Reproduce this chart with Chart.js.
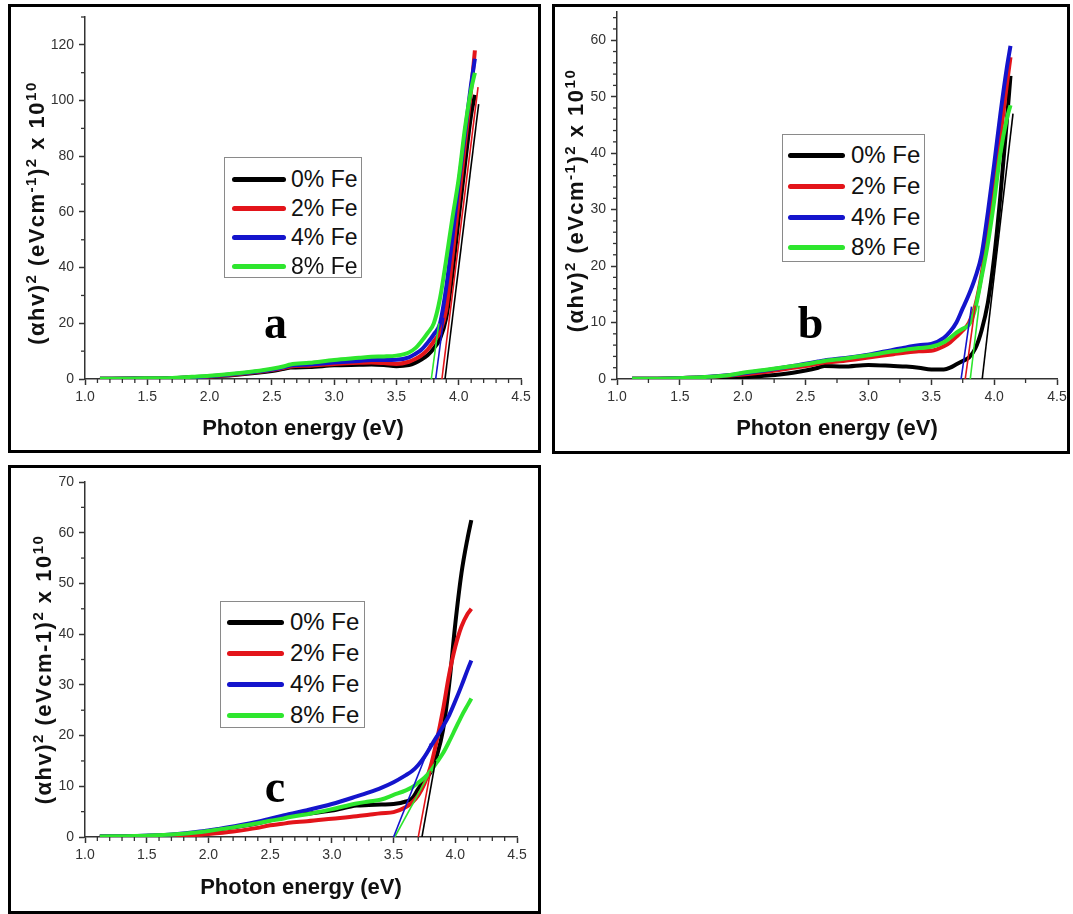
<!DOCTYPE html>
<html>
<head>
<meta charset="utf-8">
<script src="https://cdn.jsdelivr.net/npm/chart.js@4.4.0/dist/chart.umd.min.js"></script>
<style>
  body { margin: 0; background: #fff; width: 1073px; height: 914px; position: relative; overflow: hidden;
         font-family: "Liberation Sans", Arial, sans-serif; }
  .panel { position: absolute; border: 3px solid #000; box-sizing: border-box; background: #fff; }
  .panel canvas { position: absolute; left: 0; top: 0; }
  .legend { position: absolute; border: 1px solid #8a8a8a; background: #fff; box-sizing: border-box; }
  .legend .row { position: absolute; left: 0; height: 0; }
  .legend .swatch { position: absolute; height: 5px; border-radius: 3px; top: -2.5px; }
  .legend .txt { position: absolute; top: 0; transform: translateY(-50%); line-height: 1; color: #111; white-space: nowrap; }
</style>
</head>
<body>

<div class="panel" style="left:8px;top:4px;width:533px;height:449px;"><canvas id="chartA" width="527" height="443"></canvas></div>
<div class="panel" style="left:552px;top:4px;width:518px;height:450px;"><canvas id="chartB" width="512" height="444"></canvas></div>
<div class="panel" style="left:8px;top:465px;width:533px;height:449px;"><canvas id="chartC" width="527" height="443"></canvas></div>

<div class="legend" id="legendA" style="left:224px;top:157px;width:138px;height:121px;"></div>
<div class="legend" id="legendB" style="left:782px;top:134px;width:143px;height:128px;"></div>
<div class="legend" id="legendC" style="left:220px;top:601px;width:145px;height:127px;"></div>

<script>
'use strict';

// photon energy grid (eV) shared by all curves
const energy = [1.12, 1.4, 1.7, 1.9, 2.0, 2.2, 2.4, 2.5, 2.6, 2.65, 2.8, 3.0, 3.2, 3.3, 3.4, 3.5,
                3.6, 3.65, 3.7, 3.75, 3.8, 3.85, 3.9, 3.95, 4.0, 4.05, 4.1, 4.13];
const seriesNames = ['0% Fe', '2% Fe', '4% Fe', '8% Fe'];
const seriesColors = ['#000000', '#e3141a', '#1414cc', '#2ee62e'];
const xTicks = [1.0, 1.5, 2.0, 2.5, 3.0, 3.5, 4.0, 4.5];

// panel a  (alpha h nu)^2 x 1e10
const a0 = [0.1, 0.15, 0.3, 0.6, 0.8, 1.4, 2.3, 2.9, 3.7, 4.1, 4.3, 4.9, 5.1, 5.2, 5.0, 4.6, 5.0, 5.8, 7, 8.5, 11, 14.5, 22, 38, 58, 77, 95, 102];
const a2 = [0.1, 0.15, 0.3, 0.6, 0.9, 1.6, 2.6, 3.2, 4.0, 4.5, 4.8, 5.4, 5.8, 5.9, 5.7, 5.4, 6.2, 7.2, 8.5, 10.5, 13.5, 17, 25, 44, 64, 84, 104, 118];
const a4 = [0.1, 0.15, 0.3, 0.7, 1.0, 1.8, 2.8, 3.4, 4.3, 4.8, 5.2, 5.9, 6.5, 6.8, 6.8, 6.9, 7.8, 9.0, 10.5, 13, 16, 20, 33, 51, 70, 88, 106, 115];
const a8 = [0.1, 0.2, 0.4, 0.9, 1.2, 2.0, 3.0, 3.7, 4.6, 5.2, 5.8, 6.8, 7.6, 8.0, 8.1, 8.4, 9.5, 11.0, 13.5, 16.5, 20, 29, 43, 58, 72, 90, 104, 110];
// fitted straight lines: [x0, y0, x1, y1]
const fitA = [[3.89, 0, 4.16, 98.7], [3.865, 0, 4.155, 104.8], [3.815, 0, 3.88, 22], [3.78, 0, 3.84, 20]];

// panel b
const b0 = [0.05, 0.05, 0.1, 0.2, 0.3, 0.6, 1.1, 1.5, 2.0, 2.3, 2.2, 2.5, 2.3, 2.2, 2.0, 1.7, 1.7, 2.0, 2.6, 3.2, 3.8, 5.4, 8.6, 13.5, 21.5, 32.5, 45.5, 53.7];
const b2 = [0.05, 0.1, 0.3, 0.6, 0.8, 1.3, 2.0, 2.3, 2.7, 2.9, 3.2, 3.8, 4.4, 4.7, 4.9, 5.0, 5.8, 6.5, 7.5, 8.6, 10, 13, 18.5, 26.5, 35, 43, 52, 57];
const b4 = [0.05, 0.1, 0.35, 0.7, 1.0, 1.6, 2.3, 2.7, 3.1, 3.3, 3.7, 4.3, 5.2, 5.6, 6.0, 6.2, 7.3, 8.4, 10, 12.5, 15, 18, 22, 29.5, 38, 47, 55, 59];
const b8 = [0.05, 0.1, 0.35, 0.7, 1.1, 1.7, 2.3, 2.6, 3.0, 3.2, 3.6, 4.2, 4.9, 5.2, 5.5, 5.7, 6.5, 7.3, 8.2, 8.9, 9.6, 12.5, 18, 24, 31.5, 40, 46, 48.5];
const fitB = [[3.905, 0, 4.15, 47], [3.77, 0, 3.85, 13], [3.737, 0, 3.82, 12.8], [3.81, 0, 3.88, 13]];

// panel c
const c0 = [0.1, 0.15, 0.4, 0.8, 1.2, 1.9, 2.7, 3.3, 3.9, 4.2, 4.6, 5.2, 6.2, 6.3, 6.4, 6.5, 7.0, 7.6, 9.5, 11.2, 12.8, 16, 21, 30, 42, 52, 59, 62.5];
const c2 = [0.05, 0.1, 0.2, 0.4, 0.6, 1.1, 1.8, 2.3, 2.6, 2.8, 3.1, 3.6, 4.1, 4.4, 4.7, 4.9, 5.9, 6.8, 8.2, 10.5, 13.9, 19, 25, 32, 37.5, 41.5, 44, 45];
const c4 = [0.1, 0.2, 0.5, 1.0, 1.3, 2.1, 3.0, 3.6, 4.2, 4.5, 5.3, 6.5, 8.0, 8.8, 9.7, 10.8, 12.2, 13.0, 14.2, 15.8, 17.8, 19.8, 21.8, 24, 26.8, 29.8, 33, 34.8];
const c8 = [0.1, 0.2, 0.5, 0.9, 1.2, 1.9, 2.7, 3.2, 3.6, 3.9, 4.5, 5.5, 6.6, 7.0, 7.4, 8.3, 9.2, 9.8, 10.7, 11.7, 13, 14.7, 16.5, 18.8, 21.3, 23.8, 26, 27.3];
const fitC = [[3.73, 0, 3.84, 15], [3.70, 0, 3.80, 13], [3.50, 0, 3.80, 18.5], [3.51, 0, 3.80, 13]];

// y axis title pieces (sup = superscript)
const yTitleAB = [{ t: '(\u03b1hv)' }, { t: '2', sup: true }, { t: ' (eVcm' }, { t: '-1', sup: true },
                  { t: ')' }, { t: '2', sup: true }, { t: ' x 10' }, { t: '10', sup: true }];
const yTitleC = [{ t: '(\u03b1hv)' }, { t: '2', sup: true }, { t: ' (eVcm-1)' }, { t: '2', sup: true },
                 { t: ' x 10' }, { t: '10', sup: true }];

const sansFont = '"Liberation Sans", Arial, sans-serif';

// small outward minor ticks, placed with the scales
const minorTicks = {
  id: 'minorTicks',
  afterDraw(chart, args, opts) {
    const ctx = chart.ctx;
    ctx.save();
    ctx.strokeStyle = '#333';
    ctx.lineWidth = 1.3;
    const xs = chart.scales.x, ys = chart.scales.y;
    for (let v = xs.min; v <= xs.max + 1e-9; v += opts.x) {
      const r = Math.round(v * 1000) / 1000;
      if (Math.abs(r / opts.xMajor - Math.round(r / opts.xMajor)) < 1e-6) continue;
      const px = xs.getPixelForValue(r);
      ctx.beginPath(); ctx.moveTo(px, xs.top); ctx.lineTo(px, xs.top + 4); ctx.stroke();
    }
    for (let v = ys.min; v <= opts.yTop + 1e-9; v += opts.y) {
      const r = Math.round(v * 1000) / 1000;
      if (Math.abs(r / opts.yMajor - Math.round(r / opts.yMajor)) < 1e-6) continue;
      const py = ys.getPixelForValue(r);
      ctx.beginPath(); ctx.moveTo(ys.right, py); ctx.lineTo(ys.right - 4, py); ctx.stroke();
    }
    ctx.restore();
  }
};

// bold panel letter at a data position
const panelLetter = {
  id: 'panelLetter',
  afterDatasetsDraw(chart, args, opts) {
    const ctx = chart.ctx;
    ctx.save();
    ctx.font = 'bold ' + opts.size + 'px "Liberation Serif", "Times New Roman", serif';
    ctx.fillStyle = '#000';
    ctx.textAlign = 'center';
    ctx.textBaseline = 'alphabetic';
    ctx.fillText(opts.text, chart.scales.x.getPixelForValue(opts.x), chart.scales.y.getPixelForValue(opts.y));
    ctx.restore();
  }
};

// rotated y title with real superscripts
const yTitle = {
  id: 'yTitle',
  afterDraw(chart, args, o) {
    const ctx = chart.ctx, ca = chart.chartArea;
    ctx.save();
    ctx.translate(o.x, (ca.top + ca.bottom) / 2 + o.dy);
    ctx.rotate(-Math.PI / 2);
    ctx.fillStyle = '#111';
    ctx.textBaseline = 'alphabetic';
    if ('letterSpacing' in ctx) ctx.letterSpacing = o.spacing + 'px';
    const fonts = o.parts.map(p => 'bold ' + (p.sup ? Math.round(o.size * 0.66) : o.size) + 'px ' + sansFont);
    const widths = o.parts.map((p, i) => { ctx.font = fonts[i]; return ctx.measureText(p.t).width; });
    const total = widths.reduce((s, w) => s + w, 0);
    let cx = -total / 2;
    const base = o.size * 0.36;
    o.parts.forEach((p, i) => {
      ctx.font = fonts[i];
      ctx.fillText(p.t, cx, base - (p.sup ? o.size * 0.36 : 0));
      cx += widths[i];
    });
    ctx.restore();
  }
};

function makeChart(id, p) {
  const curves = p.values.map((vals, i) => ({
    label: seriesNames[i],
    data: energy.map((e, k) => ({ x: e, y: vals[k] })),
    borderColor: seriesColors[i],
    borderWidth: 4,
    pointRadius: 0,
    cubicInterpolationMode: 'monotone',
    order: 10 - i
  }));
  const fits = p.fits.map((f, i) => ({
    label: seriesNames[i] + ' fit',
    data: [{ x: f[0], y: f[1] }, { x: f[2], y: f[3] }],
    borderColor: seriesColors[i],
    borderWidth: 1.6,
    pointRadius: 0,
    order: 1
  }));

  return new Chart(document.getElementById(id), {
    type: 'line',
    data: { datasets: curves.concat(fits) },
    plugins: [minorTicks, panelLetter, yTitle],
    options: {
      responsive: false,
      animation: false,
      devicePixelRatio: 1,
      layout: { padding: { left: 0, top: p.padTop, right: p.padRight, bottom: 0 } },
      plugins: {
        legend: { display: false },
        tooltip: { enabled: false },
        minorTicks: { x: p.xMinor, xMajor: 0.5, y: p.yMinor, yMajor: p.yStep, yTop: p.yMax },
        panelLetter: { text: p.letter, x: p.letterX, y: p.letterY, size: 46 },
        yTitle: { parts: p.yTitle, x: p.yTitleX, dy: p.yTitleDy, size: 22, spacing: 1.5 }
      },
      scales: {
        x: {
          type: 'linear',
          min: 1, max: 4.5,
          afterBuildTicks: s => { s.ticks = xTicks.map(v => ({ value: v })); },
          ticks: {
            callback: v => v.toFixed(1), color: '#333', padding: 4, maxRotation: 0, autoSkip: false,
            font: { size: 14, family: sansFont }
          },
          grid: { drawOnChartArea: false, tickLength: 6, tickWidth: 1.5, tickColor: '#333' },
          border: { color: '#333', width: 1.5 },
          title: {
            display: true, text: 'Photon energy (eV)', color: '#111',
            font: { size: 22, weight: 'bold', family: sansFont },
            padding: { top: 0, bottom: p.xTitlePad }
          },
          afterFit: s => { s.height = p.xHeight; s.paddingLeft = 0; s.paddingRight = 0; }
        },
        y: {
          type: 'linear',
          min: 0, max: p.yMax,
          ticks: {
            stepSize: p.yStep, includeBounds: false, color: '#333', padding: 5,
            font: { size: 14, family: sansFont }
          },
          grid: { drawOnChartArea: false, tickLength: 6, tickWidth: 1.5, tickColor: '#333' },
          border: { color: '#333', width: 1.5 },
          title: { display: false },
          afterFit: s => { s.width = p.yWidth; s.paddingTop = 0; s.paddingBottom = 0; }
        }
      }
    }
  });
}

makeChart('chartA', {
  values: [a0, a2, a4, a8], fits: fitA, yMax: 130, yStep: 20, yMinor: 10, xMinor: 0.1,
  yTitle: yTitleAB, yTitleX: 25, yTitleDy: 15,
  padTop: 10, padRight: 17, yWidth: 74, xHeight: 71, xTitlePad: 8,
  letter: 'a', letterX: 2.53, letterY: 14.8
});
makeChart('chartB', {
  values: [b0, b2, b4, b8], fits: fitB, yMax: 65, yStep: 10, yMinor: 2, xMinor: 0.25,
  yTitle: yTitleAB, yTitleX: 20, yTitleDy: 5,
  padTop: 5, padRight: 10, yWidth: 62, xHeight: 72, xTitlePad: 9,
  letter: 'b', letterX: 2.54, letterY: 7.25
});
makeChart('chartC', {
  values: [c0, c2, c4, c8], fits: fitC, yMax: 70, yStep: 10, yMinor: 5, xMinor: 0.1,
  yTitle: yTitleC, yTitleX: 32, yTitleDy: 10,
  padTop: 14, padRight: 21, yWidth: 74, xHeight: 74, xTitlePad: 10,
  letter: 'c', letterX: 2.54, letterY: 6.9
});

// legends drawn as boxes over the plots
function makeLegend(id, rowTops, lineLeft, lineWidth, textLeft, fontSize) {
  const box = document.getElementById(id);
  seriesNames.forEach((name, i) => {
    const row = document.createElement('div');
    row.className = 'row';
    row.style.top = rowTops[i] + 'px';
    const sw = document.createElement('div');
    sw.className = 'swatch';
    sw.style.left = lineLeft + 'px';
    sw.style.width = lineWidth + 'px';
    sw.style.background = seriesColors[i];
    const tx = document.createElement('div');
    tx.className = 'txt';
    tx.style.left = textLeft + 'px';
    tx.style.fontSize = fontSize + 'px';
    tx.textContent = name;
    row.appendChild(sw);
    row.appendChild(tx);
    box.appendChild(row);
  });
}
makeLegend('legendA', [21, 50, 79, 108], 7, 54, 66, 23);
makeLegend('legendB', [20, 51, 82, 112], 5, 57, 68, 24);
makeLegend('legendC', [20, 51, 82, 113], 6, 57, 69, 24);
</script>
</body>
</html>
